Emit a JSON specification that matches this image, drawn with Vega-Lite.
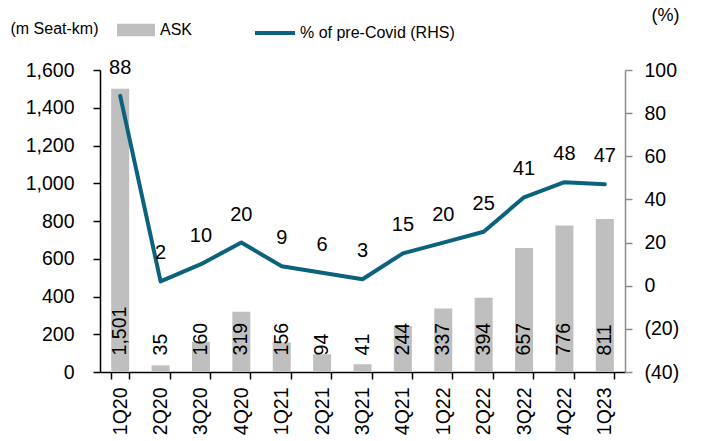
{
  "$schema": "https://vega.github.io/schema/vega-lite/v6.json",
  "width": 525,
  "height": 302,
  "autosize": {"type": "none"},
  "padding": {"left": 100, "top": 70, "right": 78, "bottom": 69},
  "background": "white",
  "config": {
    "font": "Liberation Sans",
    "view": {"stroke": null},
    "axis": {"labelFont": "Liberation Sans", "labelFontSize": 19.5, "labelColor": "black", "titleFont": "Liberation Sans", "titleFontSize": 16, "titleFontWeight": "normal", "titleColor": "black", "grid": false, "labelOverlap": false},
    "legend": {"labelFont": "Liberation Sans", "labelFontSize": 16, "labelColor": "black", "labelLimit": 400}
  },
  "data": {
    "values": [
      {"q": "1Q20", "ask": 1501, "pct": 88},
      {"q": "2Q20", "ask": 35, "pct": 2},
      {"q": "3Q20", "ask": 160, "pct": 10},
      {"q": "4Q20", "ask": 319, "pct": 20},
      {"q": "1Q21", "ask": 156, "pct": 9},
      {"q": "2Q21", "ask": 94, "pct": 6},
      {"q": "3Q21", "ask": 41, "pct": 3},
      {"q": "4Q21", "ask": 244, "pct": 15},
      {"q": "1Q22", "ask": 337, "pct": 20},
      {"q": "2Q22", "ask": 394, "pct": 25},
      {"q": "3Q22", "ask": 657, "pct": 41},
      {"q": "4Q22", "ask": 776, "pct": 48},
      {"q": "1Q23", "ask": 811, "pct": 47}
    ]
  },
  "encoding": {
    "x": {
      "field": "q", "type": "nominal", "sort": null,
      "scale": {"paddingInner": 0.55, "paddingOuter": 0.275},
      "axis": {"title": null, "labelAngle": -90, "labelAlign": "right", "labelBaseline": "middle", "labelPadding": 8, "domainColor": "black", "domainWidth": 1.5, "tickColor": "black", "tickWidth": 1.5, "tickSize": 7, "tickBand": "extent"}
    }
  },
  "layer": [
    {
      "layer": [
        {
          "mark": {"type": "bar", "size": 18},
          "encoding": {
            "y": {
              "field": "ask", "type": "quantitative",
              "scale": {"domain": [0, 1600]},
              "axis": {"title": "(m Seat-km)", "titleAngle": 0, "titleAlign": "left", "titleBaseline": "middle", "titleX": -90, "titleY": -42, "values": [0, 200, 400, 600, 800, 1000, 1200, 1400, 1600], "labelExpr": "format(datum.value, ',')", "labelOverlap": false, "domainColor": "black", "domainWidth": 1.5, "tickColor": "black", "tickWidth": 1.5, "tickSize": 7, "labelPadding": 19}
            },
            "color": {
              "datum": "ASK",
              "scale": {"range": ["#bfbfbf"]},
              "legend": {"title": null, "orient": "none", "legendX": 17, "legendY": -59, "symbolType": "M-1,-0.33H1V0.33H-1Z", "symbolSize": 1444, "symbolStrokeWidth": 0, "symbolOpacity": 1, "labelOffset": 5}
            }
          }
        },
        {
          "mark": {"type": "text", "angle": 270, "align": "left", "baseline": "middle", "fontSize": 19.5, "color": "black"},
          "encoding": {
            "y": {"datum": 88, "type": "quantitative",
              "axis": {"title": "(m Seat-km)", "titleAngle": 0, "titleAlign": "left", "titleBaseline": "middle", "titleX": -90, "titleY": -42, "values": [0, 200, 400, 600, 800, 1000, 1200, 1400, 1600], "labelExpr": "format(datum.value, ',')", "labelOverlap": false, "domainColor": "black", "domainWidth": 1.5, "tickColor": "black", "tickWidth": 1.5, "tickSize": 7, "labelPadding": 19}
            },
            "text": {"field": "ask", "type": "quantitative", "format": ","}
          }
        }
      ]
    },
    {
      "layer": [
        {
          "mark": {"type": "line", "strokeWidth": 4, "strokeCap": "round", "strokeJoin": "round"},
          "encoding": {
            "y": {
              "field": "pct", "type": "quantitative",
              "scale": {"domain": [-40, 100]},
              "axis": {"orient": "right", "title": "(%)", "titleAngle": 0, "titleAlign": "center", "titleBaseline": "middle", "titleFontSize": 18, "titleX": 40, "titleY": -55, "values": [-40, -20, 0, 20, 40, 60, 80, 100], "labelExpr": "datum.value < 0 ? '(' + abs(datum.value) + ')' : datum.label", "domainColor": "#8c8c8c", "domainWidth": 1.5, "tickColor": "#8c8c8c", "tickWidth": 1.5, "tickSize": 7, "labelPadding": 12}
            },
            "stroke": {
              "datum": "% of pre-Covid (RHS)",
              "scale": {"range": ["#0b627c"]},
              "legend": {"title": null, "orient": "none", "legendX": 153, "legendY": -59, "symbolType": "M-1,0H1", "symbolSize": 1600, "symbolStrokeWidth": 4, "labelOffset": 3}
            }
          }
        },
        {
          "mark": {"type": "text", "align": "center", "baseline": "alphabetic", "dy": -22, "fontSize": 20, "color": "black"},
          "encoding": {
            "y": {"field": "pct", "type": "quantitative"},
            "text": {"field": "pct", "type": "quantitative"}
          }
        }
      ]
    }
  ],
  "resolve": {"scale": {"y": "independent"}}
}
